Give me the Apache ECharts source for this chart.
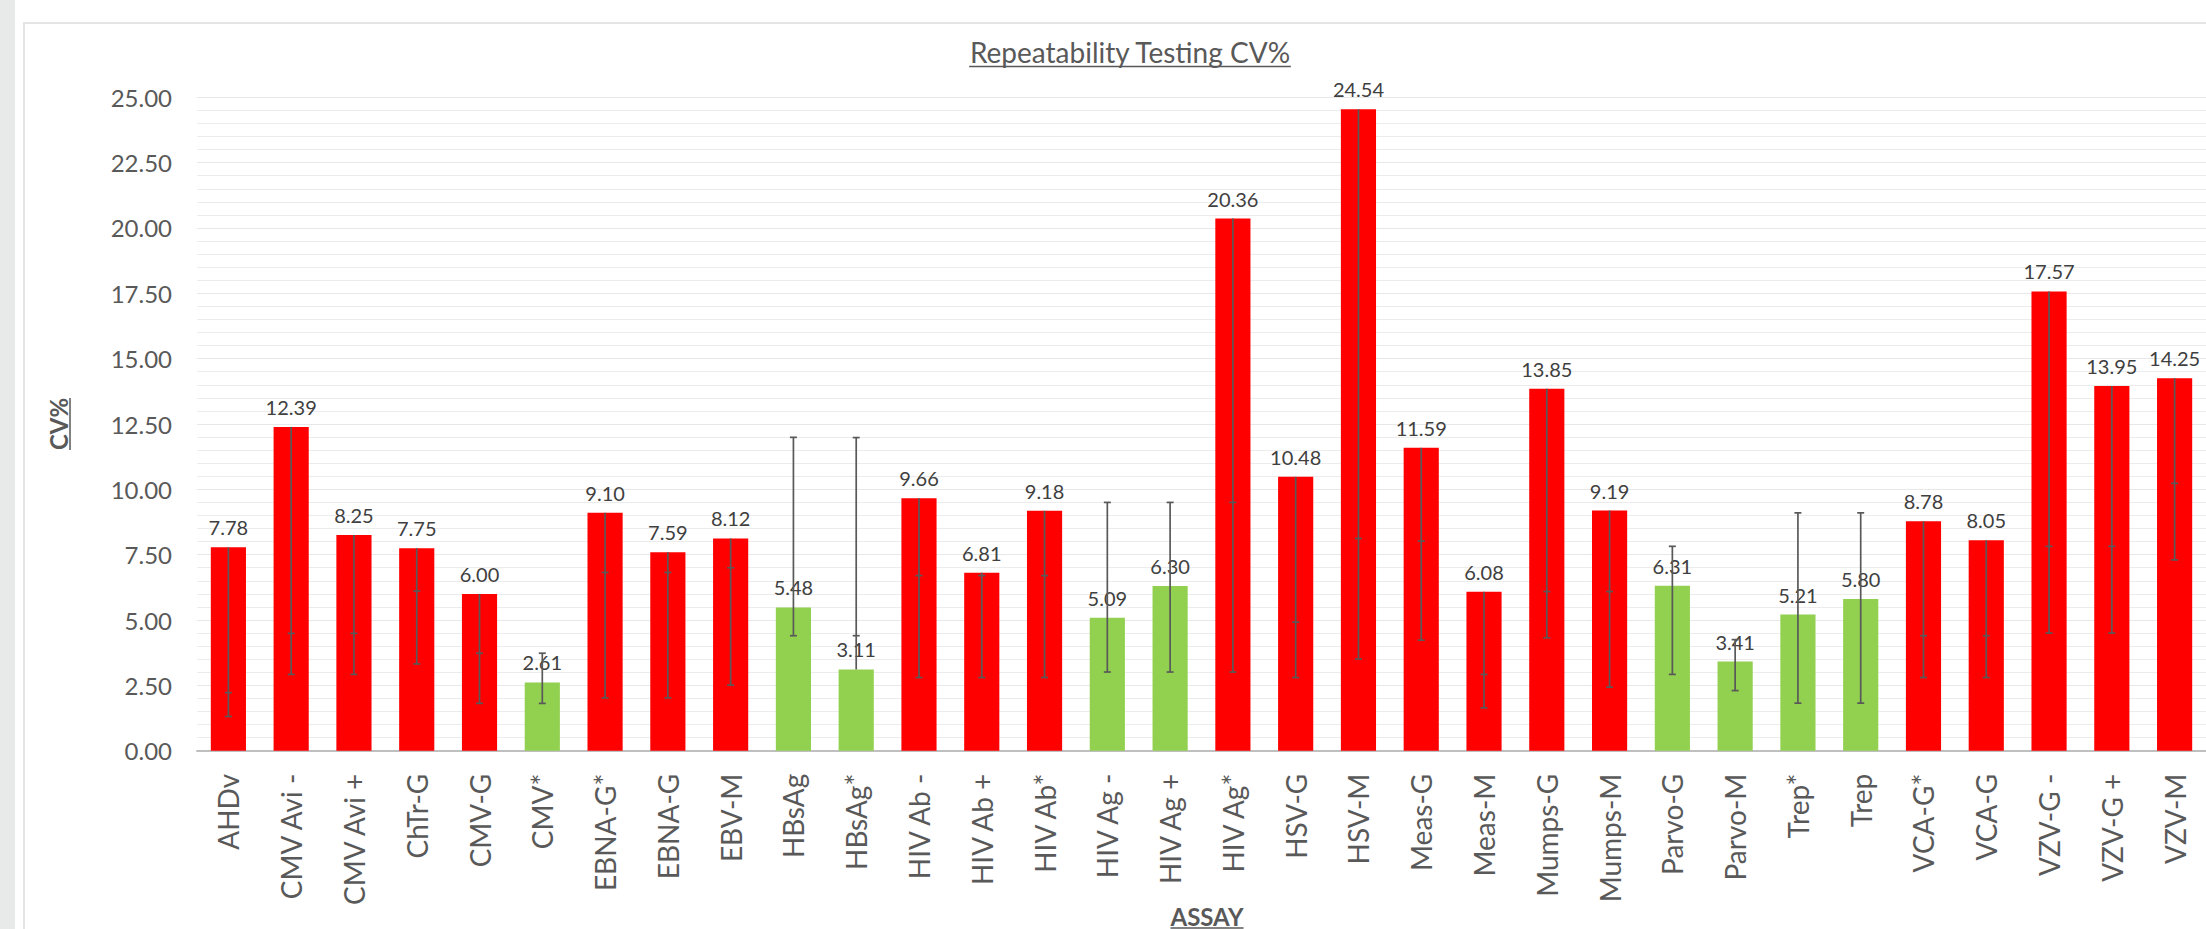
<!DOCTYPE html>
<html>
<head>
<meta charset="utf-8">
<script src="https://cdn.jsdelivr.net/npm/echarts@6/dist/echarts.min.js"></script>
<style>
html,body{margin:0;padding:0;background:#fff;}
body{width:2206px;height:929px;overflow:hidden;position:relative;}
#strip{position:absolute;left:0;top:0;width:15px;height:929px;background:#e8eaea;}
#frame{position:absolute;left:23px;top:22px;width:2400px;height:1100px;border:2px solid #e4e4e4;box-sizing:border-box;}
#chart{position:absolute;left:0;top:0;width:2206px;height:929px;}
</style>
</head>
<body>
<div id="strip"></div>
<div id="frame"></div>
<div id="chart"></div>
<script>
// ---- data ----
const categories = ['AHDv','CMV Avi -','CMV Avi +','ChTr-G','CMV-G','CMV*','EBNA-G*','EBNA-G','EBV-M','HBsAg','HBsAg*','HIV Ab -','HIV Ab +','HIV Ab*','HIV Ag -','HIV Ag +','HIV Ag*','HSV-G','HSV-M','Meas-G','Meas-M','Mumps-G','Mumps-M','Parvo-G','Parvo-M','Trep*','Trep','VCA-G*','VCA-G','VZV-G -','VZV-G +','VZV-M'];
const cvValues = [7.78,12.39,8.25,7.75,6.00,2.61,9.10,7.59,8.12,5.48,3.11,9.66,6.81,9.18,5.09,6.30,20.36,10.48,24.54,11.59,6.08,13.85,9.19,6.31,3.41,5.21,5.80,8.78,8.05,17.57,13.95,14.25];
const capHigh = [2.22,4.49,4.49,6.11,3.73,3.73,6.82,6.82,7.00,11.99,11.98,6.70,6.70,6.70,9.50,9.50,9.50,4.92,8.12,8.02,2.92,6.09,6.09,7.82,4.25,9.10,9.10,4.40,4.40,7.82,7.82,10.23];
const capLow = [1.31,2.92,2.92,3.32,1.81,1.81,2.02,2.02,2.51,4.40,4.40,2.80,2.80,2.80,3.01,3.01,3.01,2.80,3.51,4.23,1.64,4.32,2.43,2.92,2.30,1.82,1.82,2.80,2.80,4.50,4.50,7.30];
const greenGroup = [0,0,0,0,0,1,0,0,0,1,1,0,0,0,1,1,0,0,0,0,0,0,0,1,1,1,1,0,0,0,0,0];
const titleText = 'Repeatability Testing CV%';
const xName = 'ASSAY';
const yName = 'CV%';

// ---- chart ----
const FONT = 'Lato';
const GREY = '#595959';
function textWidth(t, font){
  const c = document.createElement('canvas').getContext('2d');
  c.font = font; return c.measureText(t).width;
}
const titleFont = '28px ' + FONT;
const nameFont = 'bold 24px ' + FONT;
const tW = textWidth(titleText, titleFont);
const xW = textWidth(xName, nameFont);
const yW = textWidth(yName, nameFont);
const titleX = 1130, titleY = 52;
const xNameX = 1207, xNameY = 916;
const yNameX = 58, yNameY = 424;

const chart = echarts.init(document.getElementById('chart'), null, {renderer:'svg'});
const option = {
  animation:false,
  grid:{left:197, right:-11, top:97.3, bottom:178.3, containLabel:false},
  xAxis:{
    type:'category', data:categories,
    axisLine:{lineStyle:{color:'#bfbfbf', width:2}},
    axisTick:{show:false},
    axisLabel:{rotate:90, interval:0, margin:23, color:GREY, fontFamily:FONT, fontSize:28}
  },
  yAxis:{
    type:'value', min:0, max:25, interval:2.5,
    axisLine:{show:false}, axisTick:{show:false},
    axisLabel:{formatter:v=>v.toFixed(2), color:GREY, fontFamily:FONT, fontSize:24, margin:25},
    splitLine:{lineStyle:{color:'#e8e8e8', width:1}},
    minorTick:{show:false, splitNumber:5},
    minorSplitLine:{show:true, lineStyle:{color:'#ececec', width:1}}
  },
  series:[
    {
      type:'bar', barWidth:'56%', z:2,
      data: cvValues.map((v,i)=>({value:v, itemStyle:{color: greenGroup[i] ? '#92d050' : '#ff0000'}})),
      label:{show:true, position:'top', distance:10, formatter:p=>p.value.toFixed(2), color:'#404040', fontFamily:FONT, fontSize:20}
    },
    {
      type:'custom', z:5,
      encode:{x:0, y:1},
      data: cvValues.map((v,i)=>[i, v, capHigh[i], capLow[i]]),
      renderItem:(params, api)=>{
        const i = api.value(0), v = api.value(1), hi = api.value(2), lo = api.value(3);
        const top = Math.max(v,hi,lo), bot = Math.min(v,hi,lo);
        const pT = api.coord([i, top]), pB = api.coord([i, bot]);
        const pH = api.coord([i, hi]), pL = api.coord([i, lo]);
        const w = 3.5;
        const st = {stroke:GREY, lineWidth:1.7};
        return {type:'group', children:[
          {type:'line', shape:{x1:pT[0], y1:pT[1], x2:pB[0], y2:pB[1]}, style:st},
          {type:'line', shape:{x1:pH[0]-w, y1:pH[1], x2:pH[0]+w, y2:pH[1]}, style:st},
          {type:'line', shape:{x1:pL[0]-w, y1:pL[1], x2:pL[0]+w, y2:pL[1]}, style:st}
        ]};
      }
    }
  ],
  graphic:[
    {type:'text', x:titleX, y:titleY, style:{text:titleText, font:titleFont, fill:GREY, align:'center', verticalAlign:'middle'}},
    {type:'line', shape:{x1:titleX - tW/2, y1:66.5, x2:titleX + tW/2, y2:66.5}, style:{stroke:GREY, lineWidth:1.5}},
    {type:'text', x:xNameX, y:xNameY, style:{text:xName, font:nameFont, fill:GREY, align:'center', verticalAlign:'middle'}},
    {type:'line', shape:{x1:xNameX - xW/2, y1:928, x2:xNameX + xW/2, y2:928}, style:{stroke:GREY, lineWidth:1.5}},
    {type:'text', x:yNameX, y:yNameY, rotation:Math.PI/2, style:{text:yName, font:nameFont, fill:GREY, align:'center', verticalAlign:'middle'}},
    {type:'line', shape:{x1:yNameX + 12, y1:yNameY - yW/2, x2:yNameX + 12, y2:yNameY + yW/2}, style:{stroke:GREY, lineWidth:1.5}}
  ]
};
chart.setOption(option);
</script>
</body>
</html>
